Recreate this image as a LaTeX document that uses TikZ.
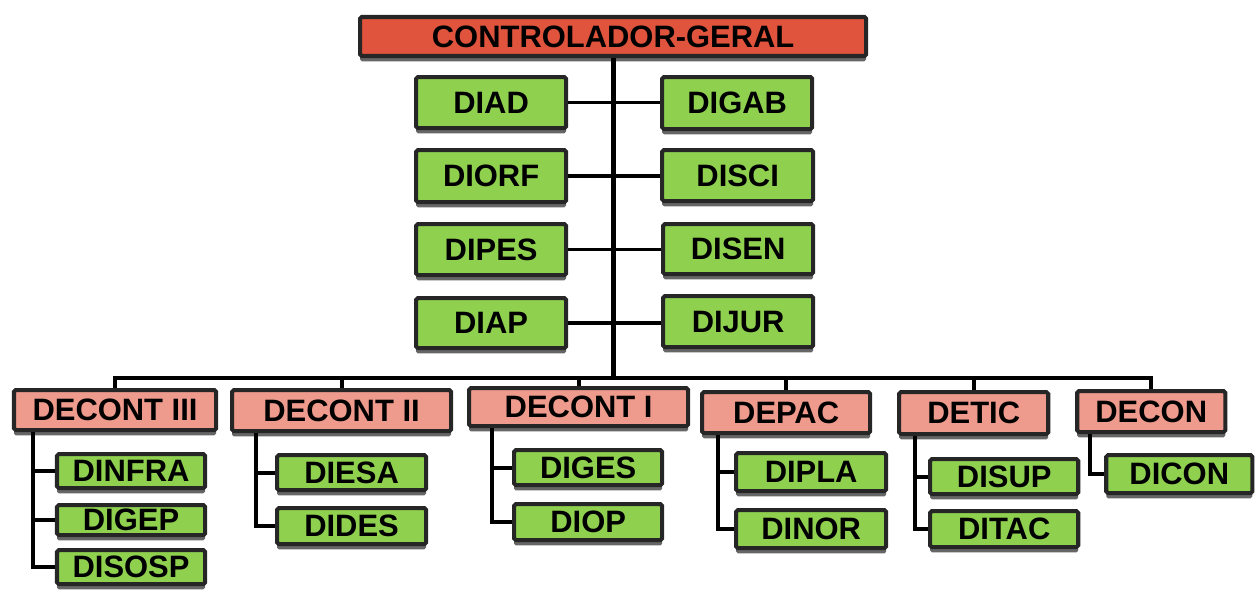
\documentclass[tikz,border=0pt]{standalone}
\usepackage{fontspec}
\setmainfont{Liberation Sans}
\usetikzlibrary{shadows}
\definecolor{bord}{HTML}{262626}
\definecolor{topred}{HTML}{E0533C}
\definecolor{pinkf}{HTML}{EE9A8C}
\definecolor{greenf}{HTML}{8FD14F}
\tikzset{
  boxbase/.style={draw=bord, line width=2.3pt, rounded corners=1pt, inner sep=0pt,
    font=\fontsize{17.6}{19}\selectfont\bfseries, text=black,
    drop shadow={shadow xshift=0pt, shadow yshift=-3pt, opacity=0.6, fill=black}},
  topbox/.style={boxbase, fill=topred},
  pinkbox/.style={boxbase, fill=pinkf},
  greenbox/.style={boxbase, fill=greenf},
  trunkline/.style={line width=2.8pt, black},
  conn/.style={line width=2.2pt, black},
}
\newcommand\bx[7]{\node[#1, minimum width={(#5-#3-4)*0.02cm}, minimum height={(#6-#4-4)*0.02cm}] (#2) at ({(#3+#5)/2*0.02},{-(#4+#6)/2*0.02}) {#7};}
\begin{document}
\begin{tikzpicture}
\useasboundingbox (0,0) rectangle (25.12,-11.8);
\coordinate (bus) at (0,{-378*0.02});
\coordinate (v3) at ({33*0.02},0);
\coordinate (v2) at ({256*0.02},0);
\coordinate (v1) at ({492*0.02},0);
\coordinate (vp) at ({718*0.02},0);
\coordinate (vt) at ({915*0.02},0);
\coordinate (vc) at ({1090*0.02},0);
% top
\bx{topbox}{ctrl}{358}{15}{868}{58}{CONTROLADOR-GERAL}
% trunk and bus
\draw[trunkline] (ctrl.south) -- (ctrl.south |- bus);
% second tier
\bx{greenbox}{diad}{414}{75}{568}{130}{DIAD}
\bx{greenbox}{digab}{660}{75}{814}{131}{DIGAB}
\bx{greenbox}{diorf}{414}{148}{568}{204}{DIORF}
\bx{greenbox}{disci}{660}{148}{815}{203}{DISCI}
\bx{greenbox}{dipes}{414}{222}{568}{277}{DIPES}
\bx{greenbox}{disen}{661}{222}{815}{276}{DISEN}
\bx{greenbox}{diap}{414}{296}{568}{350}{DIAP}
\bx{greenbox}{dijur}{661}{294}{815}{349}{DIJUR}
\draw[conn] (diad.east) -- (diad.east -| digab.west);
\draw[conn] (diorf.east) -- (diorf.east -| disci.west);
\draw[conn] (dipes.east) -- (dipes.east -| disen.west);
\draw[conn] (diap.east) -- (diap.east -| dijur.west);
% departments
\bx{pinkbox}{dc3}{12}{388}{218}{432}{DECONT III}
\bx{pinkbox}{dc2}{230}{388}{453}{433}{DECONT II}
\bx{pinkbox}{dc1}{467}{386}{690}{428}{DECONT I}
\bx{pinkbox}{depac}{700}{390}{872}{435}{DEPAC}
\bx{pinkbox}{detic}{897}{390}{1050}{436}{DETIC}
\bx{pinkbox}{decon}{1075}{389}{1227}{434}{DECON}
\draw[conn] (dc3.north) -- (dc3.north |- bus) -- (decon.north |- bus) -- (decon.north);
\draw[conn] (dc2.north) -- (dc2.north |- bus);
\draw[conn] (dc1.north) -- (dc1.north |- bus);
\draw[conn] (depac.north) -- (depac.north |- bus);
\draw[conn] (detic.north) -- (detic.north |- bus);
% children
\bx{greenbox}{dinfra}{55}{452}{207}{490}{DINFRA}
\bx{greenbox}{digep}{55}{503}{207}{537}{DIGEP}
\bx{greenbox}{disosp}{55}{548}{207}{586}{DISOSP}
\bx{greenbox}{diesa}{275}{453}{428}{492}{DIESA}
\bx{greenbox}{dides}{275}{506}{428}{546}{DIDES}
\bx{greenbox}{diges}{512}{448}{664}{487}{DIGES}
\bx{greenbox}{diop}{512}{502}{664}{542}{DIOP}
\bx{greenbox}{dipla}{734}{451}{888}{493}{DIPLA}
\bx{greenbox}{dinor}{734}{508}{888}{550}{DINOR}
\bx{greenbox}{disup}{928}{457}{1080}{496}{DISUP}
\bx{greenbox}{ditac}{928}{509}{1080}{549}{DITAC}
\bx{greenbox}{dicon}{1104}{453}{1254}{495}{DICON}
\draw[conn] (v3 |- dc3.south) |- (disosp.west);
\draw[conn] (v3 |- dinfra.west) -- (dinfra.west);
\draw[conn] (v3 |- digep.west) -- (digep.west);
\draw[conn] (v2 |- dc2.south) |- (dides.west);
\draw[conn] (v2 |- diesa.west) -- (diesa.west);
\draw[conn] (v1 |- dc1.south) |- (diop.west);
\draw[conn] (v1 |- diges.west) -- (diges.west);
\draw[conn] (vp |- depac.south) |- (dinor.west);
\draw[conn] (vp |- dipla.west) -- (dipla.west);
\draw[conn] (vt |- detic.south) |- (ditac.west);
\draw[conn] (vt |- disup.west) -- (disup.west);
\draw[conn] (vc |- decon.south) |- (dicon.west);
\end{tikzpicture}
\end{document}
